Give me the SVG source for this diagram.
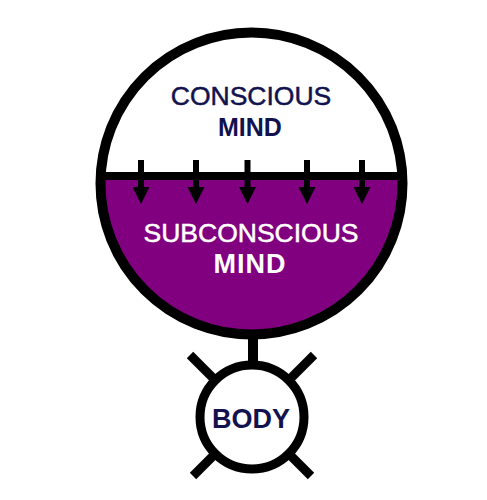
<svg xmlns="http://www.w3.org/2000/svg" width="487" height="500" viewBox="0 0 487 500">
<style>
.lbl{font-family:"Liberation Sans",Arial,sans-serif;text-anchor:middle}
.b{font-weight:700}
.nv{fill:#12124f}
.wh{fill:#ffffff}
.thick{stroke-width:0.5px}
.nv.thick{stroke:#12124f}
.wh.thick{stroke:#ffffff}
.ln{stroke:#000;fill:none}
</style>
<defs>
<clipPath id="lower"><rect x="0" y="176" width="487" height="200"/></clipPath>
<g id="arrow"><rect x="-3" y="160" width="6" height="30"/><polygon points="-8.5,187 8.5,187 0,204"/></g>
</defs>
<rect width="487" height="500" fill="#fff"/>
<g id="mind">
<circle cx="251.5" cy="183.5" r="151" fill="#fff"/>
<circle cx="251.5" cy="183.5" r="151" fill="#800080" clip-path="url(#lower)"/>
<circle cx="251.5" cy="183.5" r="151" class="ln" stroke-width="10"/>
<line x1="100" y1="176" x2="403" y2="176" class="ln" stroke-width="8"/>
<text class="lbl nv thick" x="251" y="105" font-size="26.5">CONSCIOUS</text>
<text class="lbl nv b" x="250" y="136" font-size="25">MIND</text>
<text class="lbl wh thick" x="251" y="242" font-size="26.5">SUBCONSCIOUS</text>
<text class="lbl wh b" x="250" y="273" font-size="27" letter-spacing="1">MIND</text>
</g>
<g id="connectors" fill="#000">
<use href="#arrow" x="141"/>
<use href="#arrow" x="196"/>
<use href="#arrow" x="247.5"/>
<use href="#arrow" x="307"/>
<use href="#arrow" x="362"/>
<line x1="253" y1="334" x2="253" y2="366" class="ln" stroke-width="10"/>
</g>
<g id="body">
<g class="ln" stroke-width="9">
<line x1="217" y1="382" x2="190" y2="355"/>
<line x1="287" y1="382" x2="314" y2="355"/>
<line x1="217" y1="452" x2="193" y2="476"/>
<line x1="287" y1="452" x2="311" y2="476"/>
</g>
<circle cx="252" cy="417" r="52" fill="#fff" stroke="#000" stroke-width="9"/>
<text class="lbl nv b" x="251" y="428" font-size="27">BODY</text>
</g>
</svg>
